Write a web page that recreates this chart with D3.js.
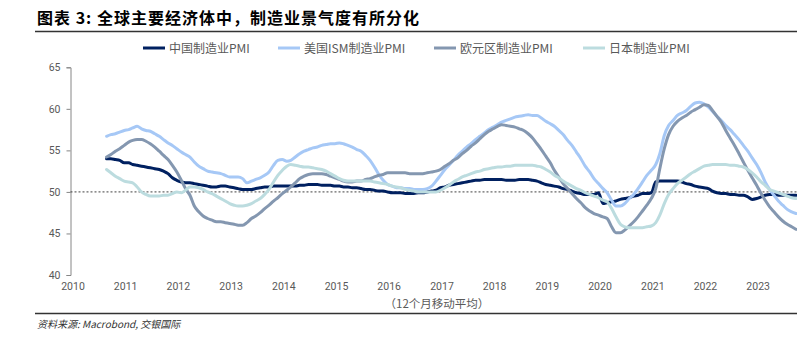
<!DOCTYPE html>
<html><head><meta charset="utf-8">
<script src="https://cdn.jsdelivr.net/npm/d3@7"></script>
<style>body{margin:0;background:#fff;} svg{display:block;}</style>
</head><body>
<svg id="c" width="797" height="337"></svg>
<script>
// Monthly 12-month moving averages, Sep 2010 .. Oct 2023
const startDate = new Date(2010, 8, 1);
const china = [
 54.0, 54.0, 53.9, 53.8,
 53.5, 53.5, 53.3, 53.2, 53.1, 53.0, 52.9, 52.8, 52.7, 52.5, 52.2, 51.7,
 51.4, 51.2, 51.1, 51.1, 51.0, 50.9, 50.8, 50.7, 50.6, 50.6, 50.7, 50.7,
 50.6, 50.5, 50.4, 50.3, 50.3, 50.3, 50.4, 50.5, 50.6, 50.6, 50.7, 50.7,
 50.7, 50.7, 50.7, 50.7, 50.8, 50.8, 50.9, 50.9, 50.9, 50.8, 50.8, 50.8,
 50.7, 50.7, 50.6, 50.6, 50.5, 50.5, 50.4, 50.3, 50.3, 50.2, 50.1, 50.1,
 50.0, 49.9, 49.9, 49.9, 49.8, 49.8, 49.8, 49.9, 49.9, 50.0, 50.1, 50.2,
 50.5, 50.6, 50.8, 50.9, 51.0, 51.1, 51.2, 51.3, 51.4, 51.4, 51.5, 51.5,
 51.5, 51.5, 51.5, 51.4, 51.4, 51.4, 51.5, 51.5, 51.5, 51.4, 51.3, 51.1,
 50.9, 50.8, 50.7, 50.6, 50.4, 50.3, 50.1, 49.9, 49.8, 49.7, 49.7, 49.7,
 49.9, 48.6, 48.7, 48.8, 48.9, 49.1, 49.2, 49.3, 49.5, 49.6, 49.8, 49.8,
 49.9, 51.2, 51.3, 51.3, 51.3, 51.3, 51.3, 51.2, 51.0, 50.9, 50.7, 50.6,
 50.5, 50.4, 50.1, 49.9, 49.8, 49.8, 49.7, 49.7, 49.6, 49.6, 49.4, 49.1,
 49.2, 49.4, 49.6, 49.7, 49.7, 49.6, 49.6, 49.6, 49.6, 49.6
];
const usIsm = [
 56.7, 56.9, 57.0, 57.2,
 57.4, 57.5, 57.7, 57.9, 57.6, 57.4, 57.3, 57.0, 56.7, 56.3, 55.9, 55.6,
 55.2, 54.8, 54.5, 54.2, 53.6, 53.1, 52.8, 52.5, 52.4, 52.3, 52.2, 52.0,
 51.8, 51.8, 51.8, 51.6, 51.1, 51.3, 51.5, 51.7, 52.0, 52.4, 53.2, 53.8,
 53.9, 53.7, 53.8, 54.2, 54.6, 54.9, 55.1, 55.3, 55.4, 55.6, 55.7, 55.8,
 55.8, 55.9, 55.8, 55.6, 55.4, 55.1, 54.9, 54.4, 53.8, 53.0, 52.1, 51.4,
 50.9, 50.7, 50.5, 50.5, 50.4, 50.4, 50.3, 50.3, 50.3, 50.4, 50.7, 51.3,
 52.0, 52.7, 53.2, 53.8, 54.4, 54.9, 55.4, 55.8, 56.3, 56.7, 57.1, 57.5,
 57.8, 58.1, 58.4, 58.6, 58.8, 59.0, 59.1, 59.2, 59.3, 59.2, 59.2, 58.9,
 58.5, 58.2, 57.9, 57.4, 56.9, 56.2, 55.6, 54.8, 54.0, 53.1, 52.4, 51.6,
 51.0, 50.4, 49.9, 49.0, 48.3, 48.3, 48.6, 49.2, 49.7, 50.4, 51.2, 52.0,
 52.6, 53.3, 54.6, 56.8, 58.0, 58.6, 59.2, 59.5, 59.8, 60.3, 60.7, 60.8,
 60.6, 60.2, 59.7, 59.1, 58.6, 58.0, 57.5, 56.9, 56.3, 55.6, 54.9, 54.1,
 53.3, 52.3, 51.2, 50.3, 49.6, 48.9, 48.4, 47.9, 47.6, 47.4
];
const euroArea = [
 54.2, 54.5, 54.9, 55.2,
 55.6, 56.0, 56.2, 56.3, 56.3, 56.1, 55.8, 55.4, 54.9, 54.4, 53.9, 53.2,
 52.4, 51.4, 50.4, 49.6, 48.3, 47.6, 47.1, 46.8, 46.6, 46.4, 46.4, 46.3,
 46.2, 46.1, 46.0, 46.0, 46.3, 46.8, 47.1, 47.5, 48.0, 48.4, 48.9, 49.3,
 49.8, 50.2, 50.6, 51.1, 51.6, 51.9, 52.1, 52.2, 52.2, 52.2, 52.1, 51.9,
 51.7, 51.5, 51.3, 51.2, 51.2, 51.3, 51.3, 51.5, 51.6, 51.8, 52.0, 52.1,
 52.3, 52.3, 52.3, 52.3, 52.3, 52.2, 52.2, 52.2, 52.2, 52.3, 52.4, 52.5,
 52.7, 53.1, 53.4, 53.8, 54.1, 54.6, 55.0, 55.5, 55.9, 56.4, 56.9, 57.3,
 57.6, 57.9, 58.1, 58.0, 57.9, 57.8, 57.6, 57.4, 57.0, 56.5, 55.8, 55.1,
 54.3, 53.5, 52.6, 51.8, 51.0, 50.4, 49.8, 49.2, 48.7, 48.1, 47.7, 47.4,
 47.2, 47.0, 46.8, 45.8, 45.1, 45.1, 45.4, 45.9, 46.4, 47.0, 47.7, 48.4,
 49.2, 50.4, 52.8, 55.2, 56.9, 57.9, 58.5, 58.9, 59.2, 59.6, 59.9, 60.2,
 60.5, 60.4, 59.8, 59.1, 58.4, 57.4, 56.5, 55.6, 54.6, 53.6, 52.6, 51.7,
 50.8, 49.8, 49.0, 48.2, 47.6, 47.0, 46.5, 46.1, 45.8, 45.5
];
const japan = [
 52.7, 52.3, 51.9, 51.6,
 51.3, 51.2, 51.1, 50.6, 50.0, 49.7, 49.5, 49.5, 49.5, 49.6, 49.6, 49.8,
 50.0, 49.9, 50.2, 50.6, 50.6, 50.5, 50.3, 50.0, 49.8, 49.5, 49.2, 48.9,
 48.6, 48.4, 48.3, 48.3, 48.4, 48.6, 48.9, 49.2, 49.7, 50.3, 51.2, 52.0,
 52.6, 53.1, 53.3, 53.2, 53.1, 53.0, 53.0, 52.9, 52.8, 52.7, 52.5, 52.2,
 51.9, 51.6, 51.4, 51.3, 51.3, 51.3, 51.3, 51.3, 51.3, 51.2, 51.1, 51.0,
 50.9, 50.7, 50.6, 50.5, 50.3, 50.2, 50.1, 50.0, 50.0, 50.0, 50.0, 50.0,
 50.2, 50.5, 50.8, 51.2, 51.5, 51.8, 52.0, 52.2, 52.4, 52.5, 52.7, 52.8,
 52.9, 53.0, 53.0, 53.1, 53.1, 53.2, 53.2, 53.2, 53.2, 53.2, 53.1, 53.0,
 52.7, 52.4, 52.0, 51.7, 51.3, 51.0, 50.7, 50.4, 50.2, 49.9, 49.7, 49.5,
 49.3, 49.0, 48.8, 48.0, 47.0, 46.1, 45.8, 45.7, 45.7, 45.7, 45.7, 45.8,
 45.9, 46.3, 47.2, 48.6, 49.7, 50.4, 51.0, 51.4, 51.8, 52.2, 52.5, 52.8,
 53.1, 53.2, 53.3, 53.3, 53.3, 53.3, 53.2, 53.2, 53.1, 53.0, 52.7, 52.3,
 51.8, 51.2, 50.8, 50.3, 50.1, 49.9, 49.7, 49.5, 49.3, 49.2
];
const seriesNames = ["中国制造业PMI", "美国ISM制造业PMI", "欧元区制造业PMI", "日本制造业PMI"];
const seriesColors = ["#002060", "#a6c8f6", "#8497b0", "#bcdcdf"];
const yTicks = [40, 45, 50, 55, 60, 65];
const xYears = [2010, 2011, 2012, 2013, 2014, 2015, 2016, 2017, 2018, 2019, 2020, 2021, 2022, 2023];
const titleText = "图表 3: 全球主要经济体中，制造业景气度有所分化";
const noteText = "（12个月移动平均）";
const sourceText = "资料来源: Macrobond, 交银国际";

const svg = d3.select("#c");
const allSeries = [china, usIsm, euroArea, japan];
const dates = china.map((_, i) => new Date(startDate.getFullYear(), startDate.getMonth() + i, 1));

const x = d3.scaleTime()
  .domain([new Date(2010, 0, 1), new Date(2024, 0, 1)])
  .range([71.5, 71.5 + 14 * 52.7]);
const y = d3.scaleLinear().domain([40, 65]).range([275, 67.3]);

// Title
svg.append("text").attr("x", 37).attr("y", 24)
  .attr("font-family", "Noto Sans CJK SC").attr("font-weight", "bold")
  .attr("font-size", 16).attr("letter-spacing", 1).attr("fill", "#000")
  .text(titleText);
svg.append("line").attr("x1", 35).attr("x2", 797).attr("y1", 31.5).attr("y2", 31.5)
  .attr("stroke", "#333").attr("stroke-width", 1.5);

// Y axis
const yAxis = d3.axisLeft(y).tickValues(yTicks).tickSize(4).tickPadding(6).tickFormat(d3.format("d"));
const gy = svg.append("g").attr("transform", "translate(70.5,0)").call(yAxis);
gy.select(".domain").attr("stroke", "#868686");
gy.selectAll(".tick line").attr("stroke", "#868686");
gy.selectAll(".tick text").attr("fill", "#595959").attr("font-family", "Roboto").attr("font-size", 10.5);

// X axis labels (no axis line)
const xAxis = d3.axisBottom(x).tickValues(xYears.map(yr => new Date(yr, 0, 1)))
  .tickSize(0).tickPadding(0).tickFormat(d3.timeFormat("%Y"));
const gx = svg.append("g").attr("transform", "translate(1,283)").call(xAxis);
gx.select(".domain").remove();
gx.selectAll(".tick text").attr("fill", "#595959").attr("font-family", "Roboto").attr("font-size", 10.5);

// 50 reference line
svg.append("line").attr("x1", 70.5).attr("x2", 797).attr("y1", y(50)).attr("y2", y(50))
  .attr("stroke", "#404040").attr("stroke-width", 1).attr("stroke-dasharray", "2,2");

// Lines
const line = d3.line().x((d, i) => x(dates[i])).y(d => y(d)).curve(d3.curveMonotoneX);
allSeries.forEach((s, k) => {
  svg.append("path").datum(s).attr("d", line).attr("fill", "none")
    .attr("stroke", seriesColors[k]).attr("stroke-width", 3)
    .attr("stroke-linejoin", "round").attr("stroke-linecap", "round");
});

// Legend
const legendX = [143, 278, 434, 583];
seriesNames.forEach((n, k) => {
  const g = svg.append("g").attr("transform", `translate(${legendX[k]},48)`);
  g.append("line").attr("x1", 0).attr("x2", 22).attr("y1", 0).attr("y2", 0)
    .attr("stroke", seriesColors[k]).attr("stroke-width", 3);
  g.append("text").attr("x", 26).attr("y", 4.5).attr("font-family", "Noto Sans CJK SC")
    .attr("font-size", 12).attr("fill", "#595959").text(n);
});

// Note
svg.append("text").attr("x", 437).attr("y", 308).attr("text-anchor", "middle")
  .attr("font-family", "Noto Sans CJK SC").attr("font-size", 11.5).attr("fill", "#595959")
  .text(noteText);

// Bottom line and source
svg.append("line").attr("x1", 35).attr("x2", 797).attr("y1", 313.5).attr("y2", 313.5)
  .attr("stroke", "#333").attr("stroke-width", 1.5);
svg.append("text").attr("x", 37).attr("y", 328)
  .attr("font-family", "Noto Sans CJK SC").attr("font-style", "italic")
  .attr("font-size", 10).attr("fill", "#333").text(sourceText);
</script>
</body></html>
